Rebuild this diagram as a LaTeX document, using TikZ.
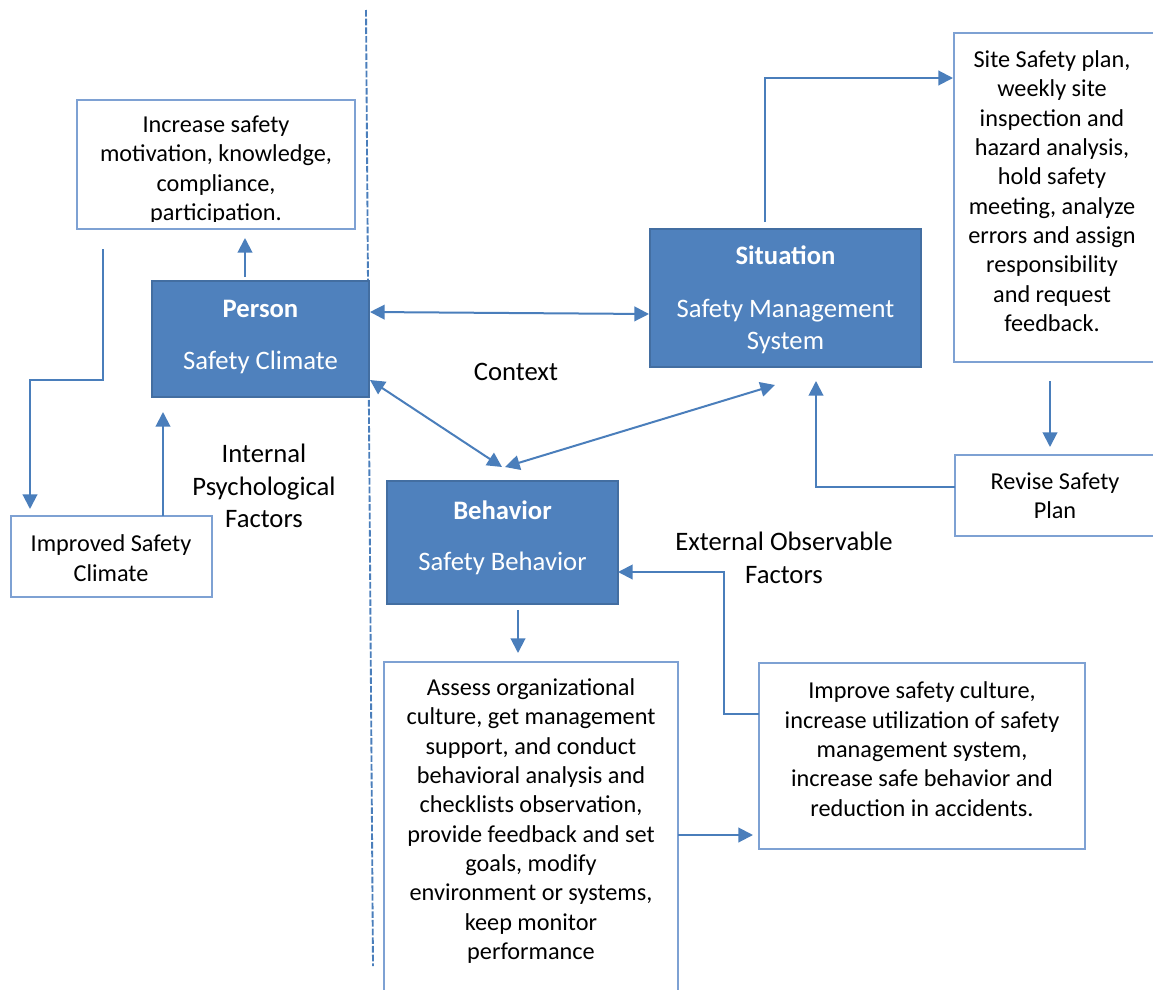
\documentclass[tikz,border=0pt]{standalone}
\usepackage{fontspec}
\setmainfont{Carlito}
\usetikzlibrary{arrows.meta,calc}
\definecolor{accent}{HTML}{4F81BD}
\definecolor{edge}{HTML}{4A7EBB}
\definecolor{frame}{HTML}{7EA1D3}

\begin{document}
\begin{tikzpicture}[x=0.75pt,y=-0.75pt,
  every node/.style={font=\fontsize{20}{24.4}\selectfont, inner sep=0pt, outer sep=0pt},
  plainbox/.style={draw=frame, line width=0.9pt, fill=white},
  keybox/.style={draw=accent!85!black, line width=0.9pt, fill=accent},
  keytext/.style={text=white, align=center},
  note/.style={align=center, font=\fontsize{18.2}{22}\selectfont},
  label/.style={align=center},
  flow/.style={draw=edge, line width=1.5pt, -{Triangle[length=11pt,width=11pt]}},
  twoway/.style={draw=edge, line width=1.5pt, {Triangle[length=11pt,width=11pt]}-{Triangle[length=11pt,width=11pt]}},
  divider/.style={draw=edge, line width=1.4pt, dash pattern=on 5pt off 1.5pt}]

\useasboundingbox (0,0) rectangle (1153,989);
\clip (0,0) rectangle (1153,989);

% dashed divider between internal and external factors
\coordinate (dtop) at (366,10);
\coordinate (dbot) at (373,966);
\draw[divider] (dtop) -- (dbot);

% boxes
\node[plainbox, minimum width=208.5pt, minimum height=96.75pt] (increase) at (216,164.5) {};
\node[keybox, minimum width=162.75pt, minimum height=87pt] (person) at (260.5,339) {};
\node[keybox, minimum width=203.25pt, minimum height=103.5pt] (situation) at (785.5,298) {};
\node[keybox, minimum width=173.25pt, minimum height=92.25pt] (behavior) at (502.5,542.5) {};
\node[plainbox, minimum width=158.25pt, minimum height=246.75pt] (siteplan) at (1059.5,197.5) {};
\node[plainbox, minimum width=157.5pt, minimum height=60.75pt] (revise) at (1060,495.5) {};
\node[plainbox, minimum width=150.75pt, minimum height=60.75pt] (improved) at (111.5,556.5) {};
\node[plainbox, minimum width=220.5pt, minimum height=253.5pt] (assess) at (531,831) {};
\node[plainbox, minimum width=244.5pt, minimum height=139.5pt] (improve) at (922,756) {};

% box texts (the first box cuts off the foot of its last line)
\begin{scope}
  \clip (increase.north west) rectangle (355,221);
  \node[note] (increasetext) at (216,170) {Increase safety\\motivation, knowledge,\\compliance,\\participation.};
\end{scope}
\node[keytext] (persontext) at (260.5,337) {\textbf{Person}\\[14pt]Safety Climate};
\node[keytext] (situationtext) at (785.5,300) {\textbf{Situation}\\[15pt]Safety Management\\System};
\node[keytext] (behaviortext) at (502.5,538) {\textbf{Behavior}\\[14pt]Safety Behavior};
\node[note] (sitetext) at (1052,191) {Site Safety plan,\\weekly site\\inspection and\\hazard analysis,\\hold safety\\meeting, analyze\\errors and assign\\responsibility\\and request\\feedback.};
\node[note] (revisetext) at (1055,496) {Revise Safety\\Plan};
\node[note] (improvedtext) at (111,558) {Improved Safety\\Climate};
\node[note] (assesstext) at (531,821) {Assess organizational\\culture, get management\\support, and conduct\\behavioral analysis and\\checklists observation,\\provide feedback and set\\goals, modify\\environment or systems,\\keep monitor\\performance};
\node[note] (improvetext) at (922,749) {Improve safety culture,\\increase utilization of safety\\management system,\\increase safe behavior and\\reduction in accidents.};

% free labels
\node (context) at (516,372) {Context};
\node[label] (internal) at (264,486) {Internal\\Psychological\\Factors};
\node[label] (external) at (784,558) {External Observable\\Factors};

% connector end points
\coordinate (a1s) at (245,277);
\coordinate (a1e) at (245,238);
\coordinate (a2s) at (103,249);
\coordinate (a2e) at (30,509);
\coordinate (a3s) at (163,516);
\coordinate (a3e) at (163,412);
\coordinate (a4s) at (370,312);
\coordinate (a4e) at (649,314);
\coordinate (a5s) at (370,380);
\coordinate (a5e) at (502,467);
\coordinate (a6s) at (775,385);
\coordinate (a6e) at (505,467);
\coordinate (a7s) at (765,222);
\coordinate (a7e) at (953,78);
\coordinate (a8s) at (1050,381);
\coordinate (a8e) at (1050,447);
\coordinate (a9s) at (955,487);
\coordinate (a9e) at (816,381);
\coordinate (a10s) at (518,610);
\coordinate (a10e) at (518,653);
\coordinate (a11s) at (678,835);
\coordinate (a11e) at (753,835);
\coordinate (a12s) at (759,714);
\coordinate (a12e) at (618,572);

% connectors
\draw[flow] (a1s) -- (a1e);
\draw[flow] (a2s) |- (30,380) -- (a2e);
\draw[flow] (a3s) -- (a3e);
\draw[twoway] (a4s) -- (a4e);
\draw[twoway] (a5s) -- (a5e);
\draw[twoway] (a6s) -- (a6e);
\draw[flow] (a7s) |- (a7e);
\draw[flow] (a8s) -- (a8e);
\draw[flow] (a9s) -| (a9e);
\draw[flow] (a10s) -- (a10e);
\draw[flow] (a11s) -- (a11e);
\draw[flow] (a12s) -| (724,572) -- (a12e);
\end{tikzpicture}
\end{document}
